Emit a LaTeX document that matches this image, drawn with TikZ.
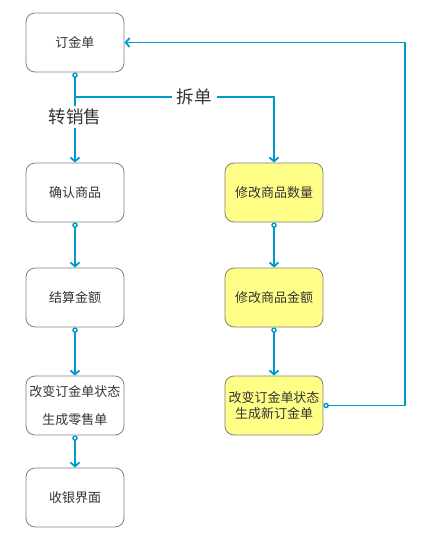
\documentclass[tikz,border=0pt]{standalone}
\usepackage{fontspec}
\newfontfamily\cjk{Noto Sans CJK SC}
\usetikzlibrary{arrows.meta}
\definecolor{flowblue}{RGB}{0,153,204}
\definecolor{boxgray}{RGB}{128,128,128}
\definecolor{noteyellow}{RGB}{255,255,136}
\definecolor{textgray}{RGB}{51,51,51}
\begin{document}
\begin{tikzpicture}[x=1pt, y=-1pt, font=\cjk\fontsize{13}{16}\selectfont,
  box/.style={draw=boxgray, line width=0.8pt, rounded corners=9pt, minimum width=98pt, minimum height=59pt, text=textgray, align=center},
  hlbox/.style={box, fill=noteyellow},
  flow/.style={draw=flowblue, line width=1.8pt, -{Straight Barb[length=4pt, width=9pt, line width=1.8pt]}},
  flowdot/.style={flow, {Circle[open, length=5.5pt, width=5.5pt, line width=1.4pt]}-{Straight Barb[length=4pt, width=9pt, line width=1.8pt]}},
  lbl/.style={fill=white, text=textgray, font=\cjk\fontsize{17.5}{20}\selectfont, inner xsep=5pt, inner ysep=3pt}]
  \useasboundingbox (0,0) rectangle (429,542);

  % Spalte links
  \node[box] (order) at (75,42.5) {订金单};
  \node[box] (check) at (75,192.5) {确认商品};
  \node[box] (sum) at (75,297.5) {结算金额};
  \node[box] (state) at (75,405.5) {改变订金单状态\\[12pt]生成零售单};
  \node[box] (cash) at (75,497.5) {收银界面};

  % Spalte rechts (gelb)
  \node[hlbox] (qty) at (274,192.5) {修改商品数量};
  \node[hlbox] (amt) at (274,297.5) {修改商品金额};
  \node[hlbox] (neworder) at (274,405.5) {改变订金单状态\\生成新订金单};

  % Verzweigung
  \coordinate (split) at (75,97);
  \coordinate (back) at (405,0);
  \draw[flowdot] (order.south) -- (split) -- node[lbl, pos=0.3] {转销售} (check.north);
  \draw[flow] (split) -| node[lbl, pos=0.3] {拆单} (qty.north);

  % Abfolge
  \draw[flowdot] (check) -- (sum);
  \draw[flowdot] (sum) -- (state);
  \draw[flowdot] (state) -- (cash);
  \draw[flowdot] (qty) -- (amt);
  \draw[flowdot] (amt) -- (neworder);

  % Rueckfuehrung
  \draw[flowdot] (neworder.east) -- (neworder.east -| back) |- (order.east);
\end{tikzpicture}
\end{document}
